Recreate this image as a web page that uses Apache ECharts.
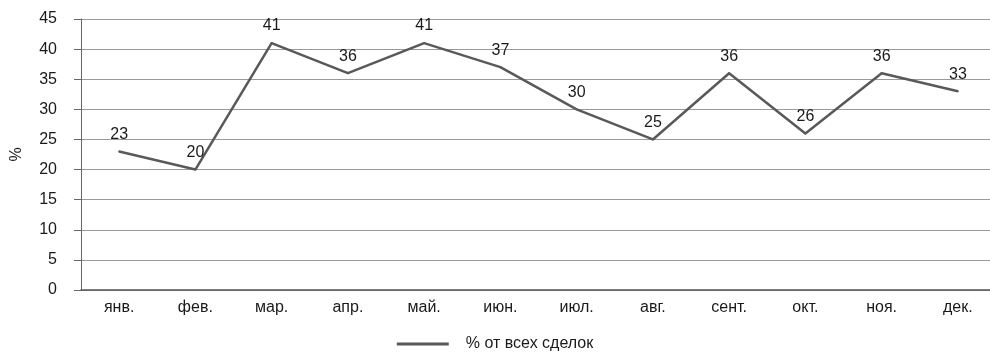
<!DOCTYPE html>
<html>
<head>
<meta charset="utf-8">
<script src="https://cdn.jsdelivr.net/npm/echarts@6/dist/echarts.min.js"></script>
<style>
  html, body { margin: 0; padding: 0; background: #fff; }
  #chart { width: 990px; height: 352px; }
</style>
</head>
<body>
<div id="chart"></div>
<script>
// Monthly share of all deals, %
const months = ['янв.', 'фев.', 'мар.', 'апр.', 'май.', 'июн.', 'июл.', 'авг.', 'сент.', 'окт.', 'ноя.', 'дек.'];
const shareValues = [23, 20, 41, 36, 41, 37, 30, 25, 36, 26, 36, 33];
const seriesName = '% от всех сделок';
const yTicks = { min: 0, max: 45, interval: 5 };

const chart = echarts.init(document.getElementById('chart'), null, { renderer: 'canvas' });
const font = 'Liberation Sans, Arial, sans-serif';
const lineColor = '#595959';
const textColor = '#1a1a1a';

chart.setOption({
  animation: false,
  backgroundColor: '#ffffff',
  textStyle: { fontFamily: font },
  grid: {
    left: 81, top: 19, width: 915, height: 271,
    containLabel: false,
    outerBoundsMode: 'none'
  },
  legend: {
    bottom: -5,
    left: 'center',
    itemWidth: 52,
    itemHeight: 3,
    itemGap: 10,
    icon: 'rect',
    textStyle: { fontSize: 16, color: textColor, fontFamily: font, padding: [0, 0, 0, 12] },
    data: [seriesName]
  },
  xAxis: {
    type: 'category',
    data: months,
    boundaryGap: true,
    axisLine: { show: true, lineStyle: { color: '#555', width: 1.5 } },
    axisTick: { show: false },
    axisLabel: { color: textColor, fontSize: 16, margin: 10, fontFamily: font }
  },
  yAxis: {
    type: 'value',
    min: yTicks.min,
    max: yTicks.max,
    interval: yTicks.interval,
    name: '%',
    nameLocation: 'middle',
    nameRotate: 90,
    nameGap: 56,
    nameTextStyle: { fontSize: 16, color: textColor, fontFamily: font },
    axisLine: { show: true, lineStyle: { color: '#666', width: 1 } },
    axisTick: { show: true, inside: false, length: 7, lineStyle: { color: '#666' } },
    axisLabel: { color: textColor, fontSize: 16, margin: 24, fontFamily: font },
    splitLine: { show: true, lineStyle: { color: '#9a9a9a', width: 1 } }
  },
  series: [{
    name: seriesName,
    type: 'line',
    data: shareValues,
    symbol: 'circle',
    symbolSize: 2,
    showSymbol: true,
    lineStyle: { color: lineColor, width: 2.5 },
    itemStyle: { color: lineColor },
    label: {
      show: true,
      position: 'top',
      distance: 8,
      color: textColor,
      fontSize: 16,
      fontFamily: font
    }
  }]
});
</script>
</body>
</html>
